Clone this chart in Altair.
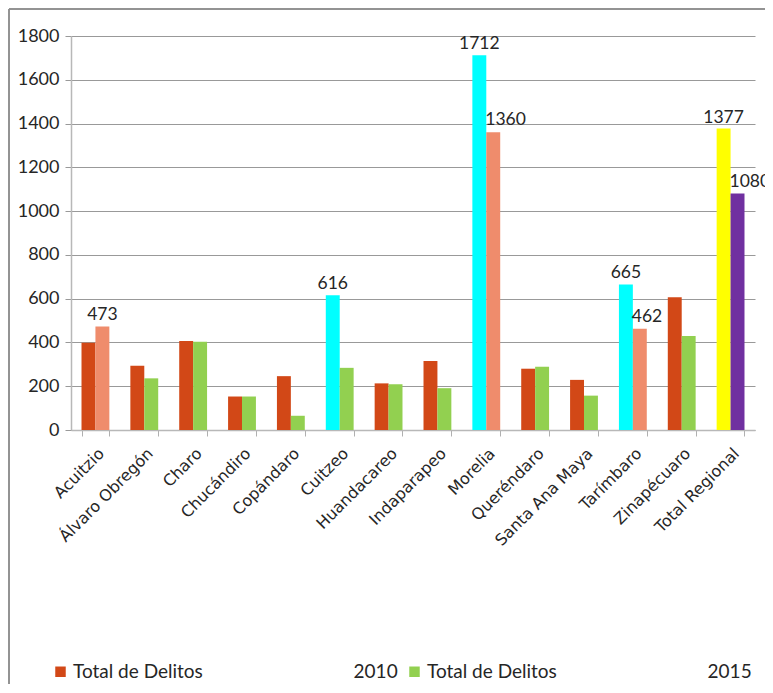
import altair as alt
import pandas as pd

categories = ["Acuitzio", "Álvaro Obregón", "Charo", "Chucándiro", "Copándaro", "Cuitzeo",
              "Huandacareo", "Indaparapeo", "Morelia", "Queréndaro", "Santa Ana Maya",
              "Tarímbaro", "Zinapécuaro", "Total Regional"]
delitos_2010 = [399, 293, 407, 153, 246, 616, 213, 315, 1712, 280, 229, 665, 606, 1377]
delitos_2015 = [473, 236, 403, 153, 65, 284, 209, 191, 1360, 289, 157, 462, 429, 1080]

RED, GREEN, SALMON, CYAN, YELLOW, PURPLE = "#D24817", "#92D050", "#EF8C6C", "#00FFFF", "#FFFF00", "#7030A0"
colors_2010 = [RED, RED, RED, RED, RED, CYAN, RED, RED, CYAN, RED, RED, CYAN, RED, YELLOW]
colors_2015 = [SALMON, GREEN, GREEN, GREEN, GREEN, GREEN, GREEN, GREEN, SALMON, GREEN, GREEN, SALMON, GREEN, PURPLE]

labels_centered = [("Acuitzio", "2015"), ("Cuitzeo", "2010"), ("Morelia", "2010"),
                   ("Tarímbaro", "2010"), ("Total Regional", "2010")]
labels_left = [("Morelia", "2015"), ("Tarímbaro", "2015"), ("Total Regional", "2015")]

NB = "\u00a0"
legend_labels = ["Total de Delitos" + NB * 31 + "2010", "Total de Delitos" + NB * 31 + "2015"]
legend_colors = [RED, GREEN]

rows = []
for i, c in enumerate(categories):
    rows.append({"cat": c, "year": "2010", "value": delitos_2010[i], "col": colors_2010[i]})
    rows.append({"cat": c, "year": "2015", "value": delitos_2015[i], "col": colors_2015[i]})
df = pd.DataFrame(rows)
df["key"] = df["cat"] + "|" + df["year"]
center_keys = [a + "|" + b for a, b in labels_centered]
left_keys = [a + "|" + b for a, b in labels_left]

xenc = alt.X("cat:N", sort=categories,
             scale=alt.Scale(paddingInner=0.43, paddingOuter=0.215),
             axis=alt.Axis(title=None, labelAngle=-45, labelFont="DejaVu Sans", labelFontSize=16,
                           labelColor="#262626", tickSize=6, tickColor="#b0b0b0", domainColor="#b8b8b8",
                           tickBand="extent", labelPadding=9, grid=False, domainWidth=1.5))
xoff = alt.XOffset("year:N", sort=["2010", "2015"], scale=alt.Scale(paddingInner=0, paddingOuter=0))
yenc = alt.Y("value:Q", scale=alt.Scale(domain=[0, 1800], nice=False),
             axis=alt.Axis(title=None, values=list(range(0, 1801, 200)), format="d", labelFont="Lato",
                           labelFontSize=18, labelColor="#262626", tickSize=6, tickColor="#999999",
                           gridColor="#999999", domainColor="#b8b8b8", labelPadding=6, domainWidth=1.5))

base = alt.Chart(df)
bars = base.mark_bar().encode(x=xenc, xOffset=xoff, y=yenc, color=alt.Color("col:N", scale=None))

txt_c = base.transform_filter(alt.FieldOneOfPredicate(field="key", oneOf=center_keys)).mark_text(
    font="Lato", fontSize=17.5, baseline="bottom", align="center", dy=-2, color="#262626"
).encode(x=xenc, xOffset=xoff, y=yenc, text="value:Q")

txt_l = base.transform_filter(alt.FieldOneOfPredicate(field="key", oneOf=left_keys)).mark_text(
    font="Lato", fontSize=17.5, baseline="bottom", align="left", dx=-8, dy=-3, color="#262626"
).encode(x=xenc, xOffset=xoff, y=yenc, text="value:Q")

leg_df = pd.DataFrame({"label": legend_labels, "cat": [categories[0]] * 2, "value": [0, 0]})
legend_layer = alt.Chart(leg_df).mark_square(opacity=0).encode(
    x=alt.X("cat:N", sort=categories),
    y=alt.Y("value:Q"),
    fill=alt.Fill("label:N", sort=legend_labels,
                  scale=alt.Scale(domain=legend_labels, range=legend_colors),
                  legend=alt.Legend(title=None, orient="none", legendX=-20, legendY=626,
                                    direction="horizontal", symbolType="square", symbolSize=110,
                                    symbolOpacity=1, symbolStrokeWidth=0, labelFont="Lato",
                                    labelFontSize=19, labelColor="#262626", labelLimit=0,
                                    labelOffset=3, columnPadding=7, padding=0)),
)

border_left = alt.Chart(leg_df).mark_rule(color="#8c8c8c", strokeWidth=1.5).encode(
    x=alt.value(-62), y=alt.value(-27), y2=alt.value(700))
border_top = alt.Chart(leg_df).mark_rule(color="#8c8c8c", strokeWidth=1.5).encode(
    x=alt.value(-62), x2=alt.value(720), y=alt.value(-27))

chart = alt.layer(bars, txt_c, txt_l, legend_layer, border_left, border_top).properties(
    width=684, height=394,
    autosize=alt.AutoSizeParams(type="none"),
    padding={"left": 63, "top": 28, "right": 10, "bottom": 254},
).configure_view(strokeWidth=0)

chart.save("out.html", embed_options={"renderer": "svg", "actions": False})
